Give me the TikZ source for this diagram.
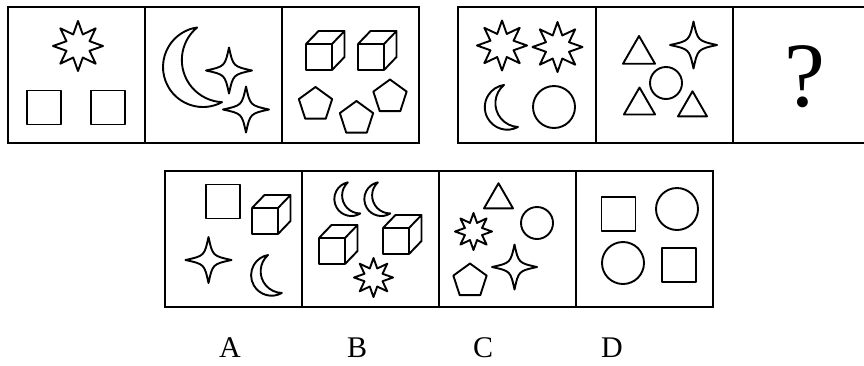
\documentclass[tikz,border=0pt]{standalone}
\usepackage{fontspec}
\setmainfont{Liberation Serif}
\usepackage{tikz}
\usetikzlibrary{shapes.geometric}

\tikzset{
  fig/.style   = {line width=1.9pt, line join=round},
  pics/sparkle/.style = {code={
    \draw[fig] (0,-#1) .. controls ({0.18*#1},{-0.18*#1}) .. (#1,0)
               .. controls ({0.18*#1},{0.18*#1}) .. (0,#1)
               .. controls ({-0.18*#1},{0.18*#1}) .. (-#1,0)
               .. controls ({-0.18*#1},{-0.18*#1}) .. (0,-#1) -- cycle;}},
  pics/moon/.style = {code={
    \draw[fig] (80:#1) arc[start angle=80, end angle=280, radius=#1]
               arc[start angle=-111.2, end angle=-248.8, radius={1.056*#1}] -- cycle;}},
  pics/cube/.style = {code={
    \draw[fig] (0,0) rectangle (26,26)
               (0,0) -- (12.5,-13) -- (38.5,-13) -- (26,0)
               (38.5,-13) -- (38.5,13) -- (26,26);}}
}

\begin{document}
\begin{tikzpicture}[x=1pt, y=-1pt,
  frame/.style = {line width=2.4pt},
  octa/.style  = {star, star points=8, star point ratio=2, draw, fig,
                  inner sep=0pt, minimum size=#1},
  penta/.style = {regular polygon, regular polygon sides=5, draw, fig,
                  inner sep=0pt, minimum size=#1},
  tri/.style   = {regular polygon, regular polygon sides=3, draw, fig,
                  inner sep=0pt, minimum size=#1},
  sq/.style    = {rectangle, draw, fig, inner sep=0pt, minimum size=#1},
  ring/.style  = {circle, draw, fig, inner sep=0pt, minimum size=#1},
  letter/.style= {inner sep=0pt, font=\fontsize{30}{30}\selectfont}
]
\useasboundingbox (0,0) rectangle (864,365);
\clip (0,0) rectangle (864,365);

% -- Frames --
\draw[frame] (8,7) rectangle (419,143) (145,7) -- (145,143) (282,7) -- (282,143);
\draw[frame] (458,7) rectangle (872,143) (596,7) -- (596,143) (733,7) -- (733,143);
\draw[frame] (165,171) rectangle (713,307) (302,171) -- (302,307)
             (439,171) -- (439,307) (576,171) -- (576,307);

% -- Panel 1 --
\node[octa=50pt] (s1)  at (78,46) {};
\node[sq=34pt]   (q1a) at (44,107.5) {};
\node[sq=34pt]   (q1b) at (108,107.5) {};

% -- Panel 2 --
\pic[rotate=18.4] at (203,67) {moon=40};
\pic at (229,70.5)  {sparkle=23};
\pic at (246,109.5) {sparkle=23};

% -- Panel 3 --
\pic at (306,44) {cube};
\pic at (358,44) {cube};
\node[penta=35pt] (p3a) at (315.5,104.5) {};
\node[penta=35pt] (p3b) at (356.5,118.5) {};
\node[penta=35pt] (p3c) at (390,97) {};

% -- Panel 4 --
\node[octa=50pt] (s4a) at (502,45.5) {};
\node[octa=50pt] (s4b) at (557.5,47) {};
\pic[rotate=18.4] at (507.3,107.2) {moon=22.5};
\node[ring=42pt] (c4)  at (554,107) {};

% -- Panel 5 --
\node[tri=37pt]  (t5a) at (639,54.5) {};
\node[tri=36pt]  (t5b) at (639.5,105.5) {};
\node[tri=33.5pt](t5c) at (692.5,108) {};
\pic at (693.5,45) {sparkle=23.5};
\node[ring=32pt] (c5)  at (666,83) {};

% -- Panel 6 --
\node[inner sep=0pt, font=\fontsize{92}{92}\selectfont] (quest) at (805,77) {?};

% -- Option A --
\node[sq=34pt] (qA) at (223,201.5) {};
\pic at (252,208) {cube};
\pic at (208.5,260) {sparkle=23};
\pic[rotate=20] at (271.6,275.2) {moon=20.5};

% -- Option B --
\pic[rotate=21.8] at (351.3,199) {moon=17};
\pic[rotate=21.8] at (381.3,199) {moon=17};
\pic at (319,238) {cube};
\pic at (383,228) {cube};
\node[octa=39pt] (sB) at (373.5,277.5) {};

% -- Option C --
\node[tri=33.5pt] (tC) at (498.5,200) {};
\node[ring=32pt]  (cC) at (537,223) {};
\node[octa=37pt]  (sC) at (473.5,231.5) {};
\pic at (514.5,267) {sparkle=22.5};
\node[penta=35pt] (pC) at (470,281) {};

% -- Option D --
\node[sq=34pt]   (qDa) at (618.5,214) {};
\node[ring=42pt] (cDa) at (677,209) {};
\node[ring=42pt] (cDb) at (623,263) {};
\node[sq=34pt]   (qDb) at (679,265) {};

% -- Labels --
\node[letter] (labA) at (230,348) {A};
\node[letter] (labB) at (357,348) {B};
\node[letter] (labC) at (483,348) {C};
\node[letter] (labD) at (612,348) {D};

\end{tikzpicture}
\end{document}
